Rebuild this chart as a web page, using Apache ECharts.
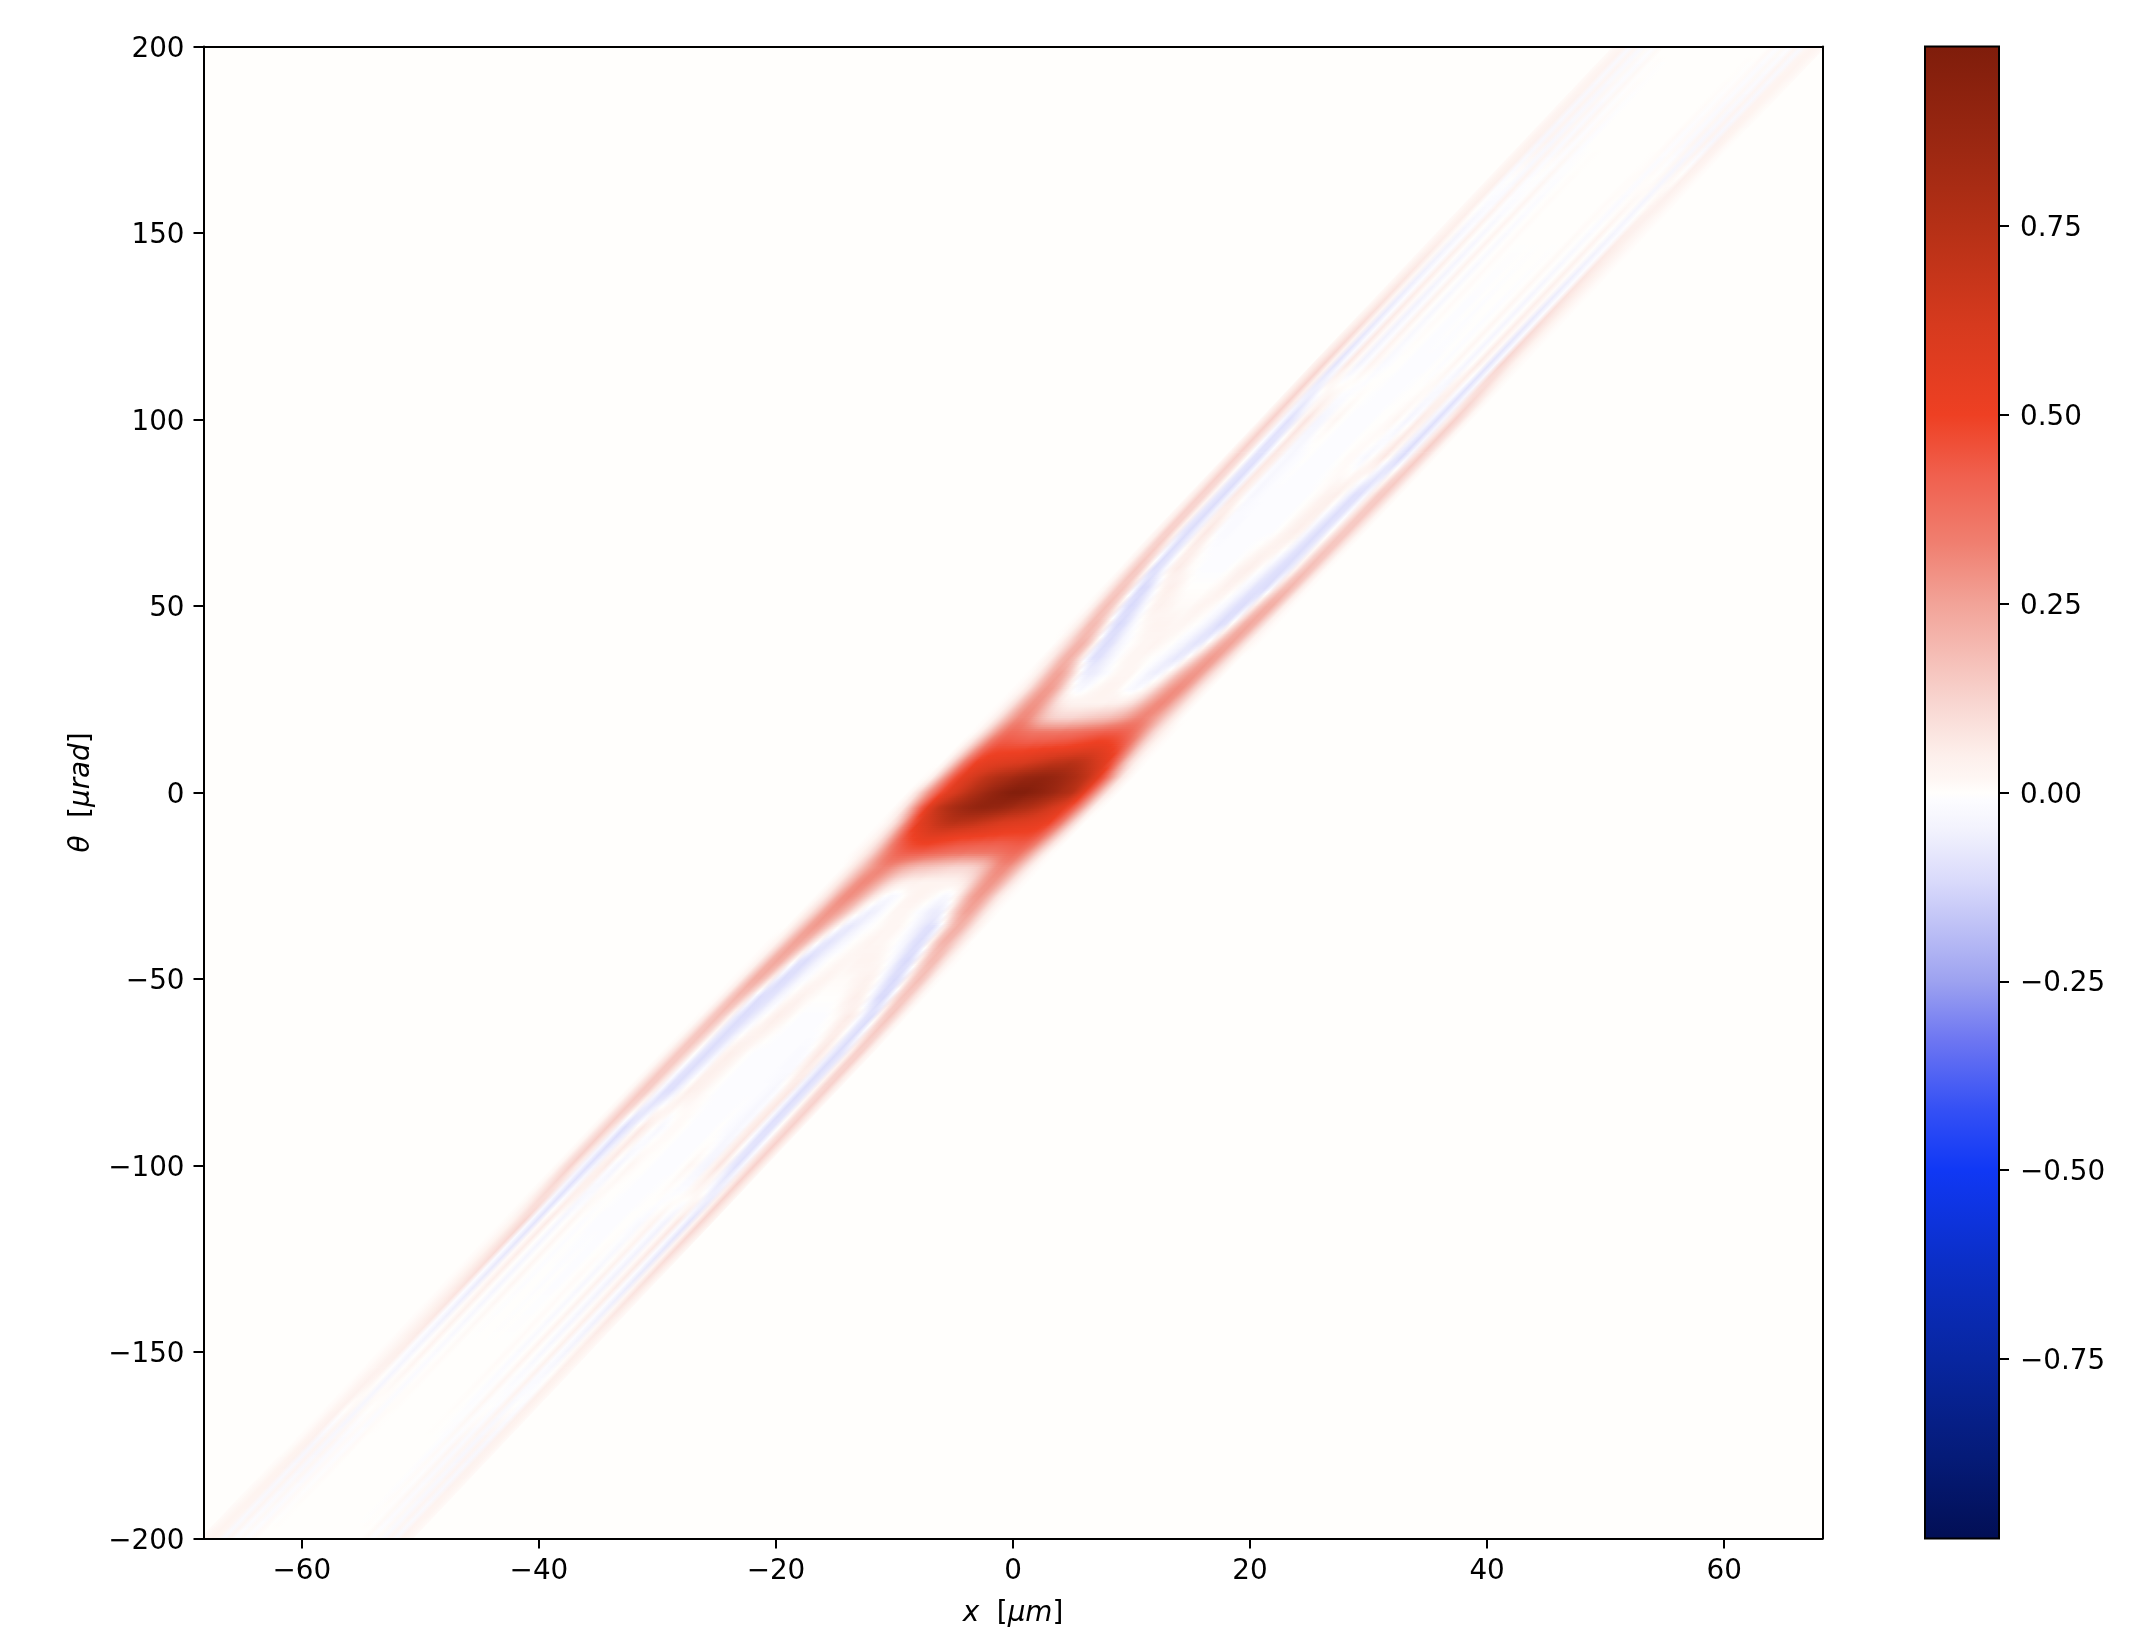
<!DOCTYPE html>
<html>
<head>
<meta charset="utf-8">
<style>html,body{margin:0;background:#fff}#main{width:2142px;height:1642px}</style>
<script src="https://cdn.jsdelivr.net/npm/echarts@6/dist/echarts.min.js"></script>
</head>
<body>
<div id="main"></div>
<script>
// tick labels
var xTicks = [-60, -40, -20, 0, 20, 40, 60];
var barTicks = [-0.75, -0.5, -0.25, 0, 0.25, 0.5, 0.75];
// colour scale
var barValues = [-0.988, -0.88, -0.75, -0.62, -0.5, -0.42, -0.33, -0.25, -0.12, -0.05, -0.01, 0, 0.02, 0.05, 0.12, 0.25, 0.33, 0.42, 0.5, 0.62, 0.75, 0.85, 0.988];
var barColors = ['#020f55', '#051b78', '#0826a0', '#0b2fc8', '#1038f5', '#3450f5', '#6c75f2', '#9da2f0', '#d8d9fb', '#f2f2fd', '#fcfcff', '#fffefc', '#fef6f3', '#fdefeb', '#f8d5d0', '#f2a398', '#f07f70', '#f0604e', '#ee4023', '#d63a1e', '#b53016', '#9d2812', '#7f1d0b'];
// band slope, x = u + shear * theta
var shear = 0.298;
// u across the band, um
var uCols = [-9, -8.5, -8, -7.5, -7, -6.5, -6, -5.5, -5, -4.5, -4, -3.5, -3, -2.5, -2, -1.5, -1, -0.5, 0, 0.5, 1, 1.5, 2, 2.5, 3, 3.5, 4, 4.5, 5, 5.5, 6, 6.5, 7, 7.5, 8, 8.5, 9];
var thetaRows = [-200, -175, -150, -130, -115, -100, -90, -80, -70, -60, -55, -50, -45, -40, -36, -32, -28, -24, -20, -16, -12, -8, -4, 0, 4, 8, 12, 16, 20, 24, 28, 32, 36, 40, 45, 50, 55, 60, 70, 80, 90, 100, 115, 130, 150, 175, 200];
// values in percent, one line per thetaRows entry
var field = [
[1,2,3,2,-2,2,-1,1,-1,1,0,0,0,0,0,0,0,0,0,0,0,0,0,0,0,0,0,0,1,-1,1,-2,2,-2,3,2,1],
[0,1,3,4,-3,3,-3,2,-2,1,-1,1,0,0,0,0,0,0,0,0,0,0,0,0,0,-1,1,-1,2,-2,2,-3,3,-3,4,3,1],
[0,1,2,4,5,-1,-4,0,3,0,-2,0,1,0,0,0,0,0,0,0,0,0,1,0,-2,0,3,0,-3,0,4,-1,-4,1,5,3,1],
[0,1,3,6,9,-1,-7,1,5,0,-4,0,2,0,-1,0,0,-1,0,-1,-1,0,1,0,-3,0,4,-1,-5,1,6,-1,-7,2,9,5,1],
[0,1,3,8,12,-2,-9,1,6,0,-4,0,2,0,-1,0,-1,-1,-1,-1,-1,0,0,-1,-2,1,3,-1,-5,1,7,-2,-9,3,12,7,2],
[0,2,9,13,6,-4,-10,-4,4,6,-1,-4,0,2,1,0,0,-1,-1,-1,-1,-1,0,2,1,-3,-4,3,8,2,-7,-10,-3,7,13,7,1],
[0,2,9,14,8,-3,-11,-7,1,7,4,0,-3,-1,1,1,0,-1,-1,-1,-1,-1,0,-1,-2,-3,-2,5,7,-2,-10,-9,0,9,13,7,1],
[0,2,9,15,14,6,-3,-10,-10,-5,1,5,4,3,1,0,-1,-1,-1,-1,-1,-1,-1,-1,-2,-3,-1,4,7,-4,-11,-8,2,11,13,6,1],
[0,2,8,15,15,9,0,-8,-11,-8,-3,3,5,4,2,0,-1,-1,-1,-1,-1,-1,-1,-2,-2,-1,4,7,3,-6,-11,-8,4,13,13,5,1],
[0,1,7,15,18,13,3,-7,-11,-10,-7,-3,0,3,5,4,2,0,-1,-1,-1,-1,-1,0,1,4,6,4,-2,-9,-11,2,13,16,10,3,0],
[0,1,6,15,20,17,9,-3,-11,-10,-9,-5,-2,1,3,4,2,1,0,0,0,0,1,3,5,4,1,-5,-11,-12,-4,10,16,15,8,2,0],
[0,1,5,14,22,22,16,6,-6,-11,-10,-7,-3,-1,1,2,3,2,1,1,1,2,3,4,3,0,-5,-10,-12,-8,5,14,18,14,6,1,0],
[0,1,4,12,21,24,21,12,1,-9,-11,-8,-5,-2,0,1,2,2,2,3,3,3,2,1,-1,-5,-10,-12,-8,4,14,19,18,10,4,1,0],
[0,1,3,10,19,25,24,19,10,1,-7,-9,-7,-4,-2,0,1,2,3,2,2,1,0,-2,-5,-9,-11,-8,4,15,21,20,14,8,3,0,0],
[0,0,3,9,17,25,27,24,17,9,1,-6,-8,-6,-3,-1,0,1,2,2,2,1,-1,-4,-7,-10,-10,-4,8,17,22,20,13,6,2,0,0],
[0,0,3,8,15,24,28,27,23,17,9,2,-3,-6,-5,-2,0,2,2,2,1,-1,-3,-6,-7,-6,2,12,20,25,24,18,10,4,1,0,0],
[0,0,2,7,14,23,29,30,27,22,15,8,3,-1,-3,-2,0,2,3,3,2,1,-1,-3,-2,3,11,20,26,27,23,16,8,3,1,0,0],
[0,0,2,7,14,21,28,31,30,26,21,15,10,7,5,4,4,3,3,3,3,3,3,4,6,10,17,24,28,28,24,17,9,4,1,0,0],
[0,0,2,7,13,20,26,30,32,31,28,25,22,20,18,17,16,15,14,13,12,12,12,13,15,19,24,29,31,30,25,18,10,4,1,0,0],
[0,1,3,7,13,22,30,36,40,42,43,43,43,42,41,40,39,38,37,37,36,36,36,36,36,37,38,39,39,36,30,22,13,6,1,0,0],
[0,1,3,8,16,27,37,45,49,52,54,55,55,54,53,52,51,50,50,49,49,48,48,47,47,47,47,47,46,43,37,28,18,9,3,0,0],
[0,1,4,10,20,33,45,55,60,64,68,71,73,74,73,72,71,69,67,65,63,61,60,59,58,57,56,55,53,50,43,34,23,12,4,0,0],
[0,2,7,18,30,43,55,63,70,75,79,82,85,87,89,90,90,89,88,86,84,81,79,77,74,71,67,63,59,55,47,38,27,15,5,1,0],
[0,3,10,20,30,39,48,56,60,65,70,75,79,83,87,90,93,95,97,97,97,95,93,91,88,85,81,78,74,65,54,42,29,17,7,2,0],
[0,1,5,15,27,38,47,55,59,63,67,71,74,77,79,81,84,86,88,89,90,90,89,87,85,82,79,75,70,63,55,43,30,18,7,2,0],
[0,0,4,12,23,34,43,50,53,55,56,57,58,59,60,61,63,65,67,69,71,72,73,74,73,71,68,64,60,55,45,33,20,10,4,1,0],
[0,0,3,9,18,28,37,43,46,47,47,47,47,47,48,48,49,49,50,50,51,52,53,54,55,55,54,52,49,45,37,27,16,8,3,1,0],
[0,0,1,6,13,22,30,36,39,39,38,37,36,36,36,36,36,37,37,38,39,40,41,42,43,43,43,42,40,36,30,22,13,7,3,1,0],
[0,0,1,4,10,18,25,30,31,29,24,19,15,13,12,12,12,13,14,15,16,17,18,20,22,25,28,31,32,30,26,20,13,7,2,0,0],
[0,0,1,4,9,17,24,28,28,24,17,10,6,4,3,3,3,3,3,3,4,4,5,7,10,15,21,26,30,31,28,21,14,7,2,0,0],
[0,0,1,3,8,16,23,27,26,20,11,3,-2,-3,-1,1,2,3,3,2,0,-2,-3,-1,3,8,15,22,27,30,29,23,14,7,2,0,0],
[0,0,1,4,10,18,24,25,20,12,2,-6,-7,-6,-3,-1,1,2,2,2,0,-2,-5,-6,-3,2,9,17,23,27,28,24,15,8,3,0,0],
[0,0,2,6,13,20,22,17,8,-4,-10,-10,-7,-4,-1,1,2,2,2,1,0,-1,-3,-6,-8,-6,1,9,17,24,27,25,17,9,3,0,0],
[0,0,3,8,14,20,21,15,4,-8,-11,-9,-5,-2,0,1,2,2,3,2,1,0,-2,-4,-7,-9,-7,1,10,19,24,25,19,10,3,1,0],
[0,1,4,10,18,19,14,4,-8,-12,-10,-5,-1,1,2,3,3,3,2,2,2,1,0,-2,-5,-8,-11,-9,1,12,21,24,21,12,4,1,0],
[0,1,6,14,18,14,5,-8,-12,-10,-5,0,3,4,3,2,1,1,1,2,3,2,1,-1,-3,-7,-10,-11,-6,6,16,22,22,14,5,1,0],
[0,2,8,15,16,10,-4,-12,-11,-5,1,4,5,3,1,0,0,0,0,1,2,4,3,1,-2,-5,-9,-10,-11,-3,9,17,20,15,6,1,0],
[0,3,10,16,13,2,-11,-9,-2,4,6,4,1,0,-1,-1,-1,-1,-1,0,2,4,5,3,0,-3,-7,-10,-11,-7,3,13,18,15,7,1,0],
[1,5,13,13,4,-8,-11,-6,3,7,4,-1,-2,-2,-1,-1,-1,-1,-1,-1,-1,0,2,4,5,3,-3,-8,-11,-8,0,9,15,15,8,2,0],
[1,6,13,11,2,-8,-11,-4,7,4,-1,-3,-2,-1,-1,-1,-1,-1,-1,-1,-1,0,1,3,4,5,1,-5,-10,-10,-3,6,14,15,9,2,0],
[1,7,13,9,0,-9,-10,-2,7,5,-2,-3,-2,-1,0,-1,-1,-1,-1,-1,0,1,1,-1,-3,0,4,7,1,-7,-11,-3,8,14,9,2,0],
[1,7,13,7,-3,-10,-7,2,8,3,-4,-3,1,2,0,-1,-1,-1,-1,-1,0,0,1,2,0,-4,-1,6,4,-4,-10,-4,6,13,9,2,0],
[2,7,12,3,-9,-2,7,1,-5,-1,3,1,-2,-1,0,0,-1,-1,-1,-1,-1,0,-1,0,2,0,-4,0,6,1,-9,-2,12,8,3,1,0],
[1,5,9,2,-7,-1,6,1,-5,-1,4,0,-3,0,1,0,-1,-1,0,-1,0,0,-1,0,2,0,-4,0,5,1,-7,-1,9,6,3,1,0],
[1,3,5,1,-4,-1,4,0,-3,0,3,0,-2,0,1,0,0,0,0,0,0,0,0,0,1,0,-2,0,3,0,-4,-1,5,4,2,1,0],
[1,3,4,-3,3,-3,2,-2,2,-1,1,-1,0,0,0,0,0,0,0,0,0,0,0,0,0,1,-1,1,-2,2,-3,3,-3,4,3,1,0],
[1,2,3,-2,2,-2,1,-1,1,0,0,0,0,0,0,0,0,0,0,0,0,0,0,0,0,0,0,1,-1,1,-1,2,-2,2,3,2,1]
];

var xLimit = 68.3;
var barLimit = 0.988;
var fontName = 'DejaVu Sans';
var labelFont = {color: '#000', fontFamily: fontName, fontSize: 27.8};
// y labels sit a little low against their ticks
var labelRich = {a: {color: '#000', fontFamily: fontName, fontSize: 27.8, padding: [6, 0, 0, 0]}};

function colorAt(v) {
    if (v <= barValues[0]) return barColors[0];
    for (var i = 1; i < barValues.length; i++) {
        if (v <= barValues[i]) {
            var t = (v - barValues[i - 1]) / (barValues[i] - barValues[i - 1]);
            return echarts.color.lerp(t, [barColors[i - 1], barColors[i]]);
        }
    }
    return barColors[barColors.length - 1];
}

function minusSign(text) {
    return String(text).replace('-', '\u2212');
}

// one slice of the band, shaded between two rows of the table
function renderBand(params, api) {
    var i = api.value(0);
    var t0 = thetaRows[i], t1 = thetaRows[i + 1];
    var low = field[i], high = field[i + 1];
    var n = Math.ceil(Math.abs(api.coord([0, t1])[1] - api.coord([0, t0])[1]) / 2);
    var u0 = uCols[0], uN = uCols[uCols.length - 1];
    // gradient runs square to the slanted lines of constant u
    var o = api.coord([0, 0]), s = api.coord([shear, 1]);
    var sx = s[0] - o[0], sy = s[1] - o[1], len = Math.sqrt(sx * sx + sy * sy);
    var nx = -sy / len, ny = sx / len;
    var children = [];
    for (var k = 0; k < n; k++) {
        var f = (k + 0.5) / n;
        var a = t0 + (t1 - t0) * k / n;
        var b = t0 + (t1 - t0) * (k + 1) / n + 0.2;
        var A = api.coord([u0 + shear * a, a]), B = api.coord([uN + shear * a, a]);
        var C = api.coord([uN + shear * b, b]), D = api.coord([u0 + shear * b, b]);
        var d = (B[0] - A[0]) * nx + (B[1] - A[1]) * ny;
        var stops = [];
        for (var j = 0; j < uCols.length; j++) {
            var v = (low[j] || 0) * (1 - f) + (high[j] || 0) * f;
            stops.push({offset: j / (uCols.length - 1), color: colorAt(v / 100)});
        }
        children.push({
            type: 'polygon',
            shape: {points: [A, B, C, D]},
            style: {fill: new echarts.graphic.LinearGradient(A[0], A[1], A[0] + d * nx, A[1] + d * ny, stops, true)}
        });
    }
    return {type: 'group', children: children};
}

function renderBar(params, api) {
    var top = api.coord([0, barLimit]), bottom = api.coord([1, -barLimit]);
    var stops = [];
    for (var i = 0; i < barValues.length; i++) {
        stops.push({offset: (barLimit - barValues[i]) / (2 * barLimit), color: barColors[i]});
    }
    stops.reverse();
    return {
        type: 'rect',
        shape: {x: top[0], y: top[1], width: bottom[0] - top[0], height: bottom[1] - top[1]},
        style: {
            fill: new echarts.graphic.LinearGradient(0, top[1], 0, bottom[1], stops, true),
            stroke: '#000',
            lineWidth: 2
        }
    };
}

var frameLine = {show: true, onZero: false, lineStyle: {color: '#000', width: 2}};
var tickStyle = {show: true, inside: false, length: 10, lineStyle: {color: '#000', width: 2}};
var nameRich = {
    i: {fontFamily: fontName, fontSize: 27.8, fontStyle: 'italic', color: '#000'},
    n: {fontFamily: fontName, fontSize: 27.8, color: '#000'}
};

var myChart = echarts.init(document.getElementById('main'));
myChart.setOption({
    animation: false,
    backgroundColor: '#fff',
    grid: [
        {left: 203.5, top: 46.5, width: 1619, height: 1492, show: true, backgroundColor: '#fffefc', borderWidth: 0, outerBoundsMode: 'none'},
        {left: 1925, top: 46.5, width: 74, height: 1492, show: false, outerBoundsMode: 'none'}
    ],
    xAxis: [
        {
            gridIndex: 0, type: 'value', min: -xLimit, max: xLimit, z: 5,
            splitLine: {show: false},
            axisLine: frameLine,
            axisTick: Object.assign({customValues: xTicks}, tickStyle),
            axisLabel: Object.assign({customValues: xTicks, margin: 19, formatter: minusSign}, labelFont),
            name: '{i|x}{n|  [}{i|\u03bcm}{n|]}',
            nameLocation: 'middle',
            nameGap: 61,
            nameTextStyle: {rich: nameRich}
        },
        {
            gridIndex: 0, type: 'value', position: 'top', min: -xLimit, max: xLimit, z: 5,
            splitLine: {show: false}, axisLine: frameLine, axisTick: {show: false}, axisLabel: {show: false}
        },
        {gridIndex: 1, type: 'value', min: 0, max: 1, show: false}
    ],
    yAxis: [
        {
            gridIndex: 0, type: 'value', min: -200, max: 200, interval: 50, z: 5,
            splitLine: {show: false},
            axisLine: frameLine,
            axisTick: tickStyle,
            axisLabel: {
                margin: 19,
                rich: labelRich,
                formatter: function (v) { return '{a|' + minusSign(v) + '}'; }
            },
            name: '{i|\u03b8}{n|  [}{i|\u03bcrad}{n|]}',
            nameLocation: 'middle',
            nameGap: 108,
            nameRotate: 90,
            nameTextStyle: {rich: nameRich}
        },
        {
            gridIndex: 0, type: 'value', position: 'right', min: -200, max: 200, z: 5,
            splitLine: {show: false}, axisLine: frameLine, axisTick: {show: false}, axisLabel: {show: false}
        },
        {
            gridIndex: 1, type: 'value', position: 'right', min: -barLimit, max: barLimit, z: 5,
            splitLine: {show: false},
            axisLine: {show: false, onZero: false},
            axisTick: Object.assign({customValues: barTicks}, tickStyle),
            axisLabel: {
                customValues: barTicks,
                margin: 21,
                rich: labelRich,
                formatter: function (v) { return '{a|' + minusSign(v.toFixed(2)) + '}'; }
            }
        }
    ],
    series: [
        {
            type: 'custom',
            coordinateSystem: 'cartesian2d',
            xAxisIndex: 0,
            yAxisIndex: 0,
            clip: true,
            silent: true,
            renderItem: renderBand,
            data: thetaRows.slice(1).map(function (t, i) { return [i]; }),
            z: 1
        },
        {
            type: 'custom',
            coordinateSystem: 'cartesian2d',
            xAxisIndex: 2,
            yAxisIndex: 2,
            silent: true,
            renderItem: renderBar,
            data: [[0]],
            z: 1
        }
    ]
});
</script>
</body>
</html>
